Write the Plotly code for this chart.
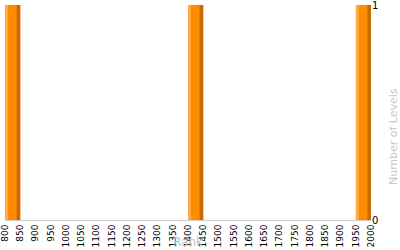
import plotly.graph_objects as go

rank_start = [800, 1400, 1950]
levels = [1, 1, 1]
bin_width = 50
tick_vals = list(range(800, 2001, 50))

fig = go.Figure()
# 3D-look bars: light left strip, orange body, dark right strip
segments = [
    (0, 50, "#FFAA44"),
    (10, 36, "#FF8C00"),
    (38, 12, "#C96A00"),
]
for off, w, col in segments:
    fig.add_trace(go.Bar(
        x=rank_start, y=levels,
        width=[w] * len(rank_start),
        offset=off,
        marker=dict(color=col, line=dict(width=0)),
        showlegend=False, hoverinfo="skip",
    ))

fig.update_layout(
    width=400, height=250,
    margin=dict(l=5, r=29, t=5, b=30, autoexpand=False),
    barmode="overlay",
    plot_bgcolor="white", paper_bgcolor="white",
    font=dict(family="DejaVu Sans", size=9, color="black"),
    xaxis=dict(
        range=[800, 2000], tickvals=tick_vals, ticktext=[str(v) for v in tick_vals],
        tickangle=-90, showgrid=False, showline=True, linecolor="#cccccc",
        linewidth=1, zeroline=False, ticks="", tickfont=dict(size=9),
        automargin=False, ticklabeloverflow="allow",
    ),
    yaxis=dict(
        range=[0, 1], tickvals=[0, 1], side="right", showgrid=True,
        gridcolor="#cccccc", zeroline=False, showline=False, ticks="",
        tickfont=dict(size=10), automargin=False, ticklabeloverflow="allow",
    ),
    annotations=[
        dict(text="Rank", xref="paper", yref="paper", x=0.5, y=0,
             yshift=-31, xanchor="center", yanchor="bottom", showarrow=False,
             font=dict(size=12, color="#c0c0c0")),
        dict(text="Number of Levels", xref="paper", yref="paper", x=1,
             y=0.386, xshift=22, textangle=-90, xanchor="center", yanchor="middle",
             showarrow=False, font=dict(size=11, color="#c8c8c8")),
    ],
)

fig.write_html("out.html")
